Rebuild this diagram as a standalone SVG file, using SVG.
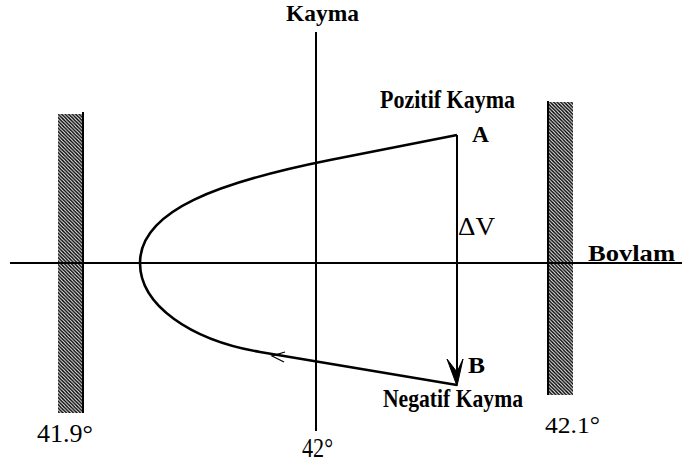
<svg xmlns="http://www.w3.org/2000/svg" width="682" height="465" viewBox="0 0 682 465">
<defs>
<pattern id="hatch" patternUnits="userSpaceOnUse" width="3.5" height="3.5">
<path d="M-1,-1 L4.5,4.5 M-1,2.5 L1,4.5 M2.5,-1 L4.5,1" stroke="#000" stroke-width="1.4"/>
</pattern>
</defs>
<style>
.ax{stroke:#000;stroke-width:2;fill:none}
.cv{stroke:#000;stroke-width:2.6;fill:none;stroke-linejoin:round}
.t{font-family:"Liberation Serif","Times New Roman",serif;fill:#000}
.b{font-weight:bold}
</style>
<rect width="682" height="465" fill="#fff"/>
<g id="wall-left">
<rect x="58" y="114" width="25" height="299" fill="url(#hatch)"/>
<line x1="83" y1="112" x2="83" y2="413" class="ax" stroke-width="1.5"/>
<text class="t" x="37" y="442" font-size="25" textLength="56" lengthAdjust="spacingAndGlyphs">41.9°</text>
</g>
<g id="wall-right">
<rect x="548" y="102" width="25" height="293" fill="url(#hatch)"/>
<line x1="548" y1="101" x2="548" y2="395" class="ax" stroke-width="1.5"/>
<text class="t" x="545" y="433" font-size="24" textLength="55" lengthAdjust="spacingAndGlyphs">42.1°</text>
</g>
<g id="axes">
<line x1="10" y1="263" x2="682" y2="263" class="ax"/>
<line x1="316" y1="32" x2="316" y2="431" class="ax"/>
<text class="t b" x="286" y="21" font-size="23" textLength="73" lengthAdjust="spacingAndGlyphs">Kayma</text>
<text class="t b" x="588" y="261" font-size="23" textLength="87" lengthAdjust="spacingAndGlyphs">Bovlam</text>
<text class="t" x="302" y="457" font-size="27" textLength="31" lengthAdjust="spacingAndGlyphs">42°</text>
</g>
<g id="connectors">
<path class="cv" d="M457,135 L330,160 C220,182 140,210 140,263 C140,305 190,340 260,352 L457,385"/>
<line x1="457" y1="135" x2="457" y2="376" class="ax" stroke-width="2.4"/>
<path d="M457,386 L447,359 L457,372 L463,359 Z" fill="#000" stroke="#000" stroke-width="1" stroke-linejoin="round"/>
<path d="M285,352 L272,356 L284,362" fill="none" stroke="#000" stroke-width="1.3"/>
</g>
<g id="label-A"><text class="t b" x="472" y="142" font-size="24" textLength="17" lengthAdjust="spacingAndGlyphs">A</text></g>
<g id="label-B"><text class="t b" x="468" y="373" font-size="23" textLength="17" lengthAdjust="spacingAndGlyphs">B</text></g>
<g id="label-dV"><text class="t" x="458" y="235" font-size="26" textLength="37" lengthAdjust="spacingAndGlyphs">ΔV</text></g>
<g id="label-pos"><text class="t b" x="380" y="108" font-size="26" textLength="135" lengthAdjust="spacingAndGlyphs">Pozitif Kayma</text></g>
<g id="label-neg"><text class="t b" x="383" y="407" font-size="25" textLength="140" lengthAdjust="spacingAndGlyphs">Negatif Kayma</text></g>
</svg>
